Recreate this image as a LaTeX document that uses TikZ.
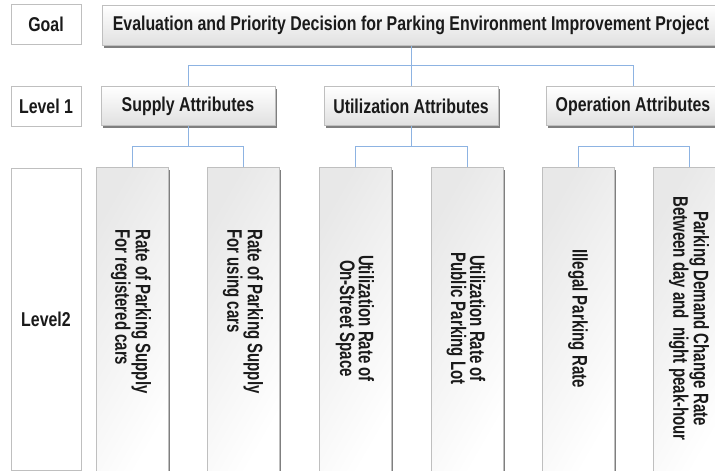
\documentclass[tikz,border=0pt]{standalone}
\usepackage{fontspec}
\setmainfont{Liberation Sans}[FakeStretch=0.795]
\newfontfamily\narrowfont{Liberation Sans}[FakeStretch=0.715]
\usetikzlibrary{calc}
\definecolor{frame}{HTML}{BFBFBF}
\definecolor{shadowgray}{HTML}{7F7F7F}
\definecolor{linkblue}{HTML}{8DB3E2}
\definecolor{ink}{HTML}{1A1A1A}
\tikzset{
  labelbox/.style={draw=frame, line width=0.9pt, fill=white, minimum width=70pt,
    text=ink, font=\bfseries\fontsize{20}{22}\selectfont, inner sep=0pt},
  headbox/.style={draw=frame, line width=0.9pt, top color=white, bottom color=black!12,
    preaction={fill=shadowgray, transform canvas={xshift=2.2pt, yshift=-2.2pt}},
    text=ink, font=\bfseries\fontsize{20}{22}\selectfont, inner sep=0pt,
    minimum height=39pt},
  subbox/.style={draw=frame, line width=0.9pt, shading=axis, left color=black!9, right color=white,
    shading angle=60,
    preaction={fill=shadowgray, transform canvas={xshift=2.2pt, yshift=-2.2pt}},
    minimum width=72pt, minimum height=305pt, inner sep=0pt},
  subtext/.style={rotate=-90, text=ink, inner sep=0pt,
    font=\narrowfont\bfseries\fontsize{21}{18.8}\selectfont},
  conn/.style={draw=linkblue, line width=0.9pt},
}
\begin{document}
\begin{tikzpicture}[x=1pt, y=-1pt]
\useasboundingbox (0,0) rectangle (715,471);
\clip (0,0) rectangle (715,471);

% row labels
\node[labelbox, minimum height=40pt] (lgoal) at (46,24.5) {Goal};
\node[labelbox, minimum height=40pt] (lone) at (46,106.5) {Level 1};
\node[labelbox, minimum height=302pt] (ltwo) at (46,319) {Level2};

% goal
\node[headbox, minimum width=618pt, minimum height=40pt] (goal) at (411,25.5)
  {Evaluation and Priority Decision for Parking Environment Improvement Project};

% level 1
\node[headbox, minimum width=174pt] (sup) at (188,106) {Supply Attributes};
\node[headbox, minimum width=174pt] (util) at (411,106) {Utilization Attributes};
\node[headbox, minimum width=174pt] (oper) at (633,106) {Operation Attributes};

% level 2 boxes
\node[subbox] (s1) at (132,320) {};
\node[subbox] (s2) at (243,320) {};
\node[subbox] (u1) at (355,320) {};
\node[subbox] (u2) at (467,320) {};
\node[subbox] (o1) at (578,320) {};
\node[subbox] (o2) at (689,320) {};

% level 2 texts
\node[subtext, align=left] (t1) at (131,311.5) {Rate of Parking Supply\\For registered cars};
\node[subtext, align=left] (t2) at (243,311.5) {Rate of Parking Supply\\For using cars};
\node[subtext, align=center] (t3) at (355,318.5) {Utilization Rate of\\On-Street Space};
\node[subtext, align=center] (t4) at (466,318.5) {Utilization Rate of\\Public Parking Lot};
\node[subtext, align=center] (t5) at (578,318.5) {Illegal Parking Rate};
\node[subtext, align=center] (t6) at (689,318.5) {Parking Demand Change Rate\\Between day and \ night peak-hour};

% connectors goal -> level 1
\coordinate (b0) at (411,65);
\draw[conn] (goal.south) -- (b0);
\draw[conn] (sup.north) -- (sup.north |- b0) -- (oper.north |- b0) -- (oper.north);
\draw[conn] (util.north) -- (b0);

% connectors level 1 -> level 2
\coordinate (b1) at (188,146);
\coordinate (b2) at (411,146);
\coordinate (b3) at (633,146);
\draw[conn] (sup.south) -- (b1);
\draw[conn] (s1.north) -- (s1.north |- b1) -- (s2.north |- b1) -- (s2.north);
\draw[conn] (util.south) -- (b2);
\draw[conn] (u1.north) -- (u1.north |- b2) -- (u2.north |- b2) -- (u2.north);
\draw[conn] (oper.south) -- (b3);
\draw[conn] (o1.north) -- (o1.north |- b3) -- (o2.north |- b3) -- (o2.north);
\end{tikzpicture}
\end{document}
